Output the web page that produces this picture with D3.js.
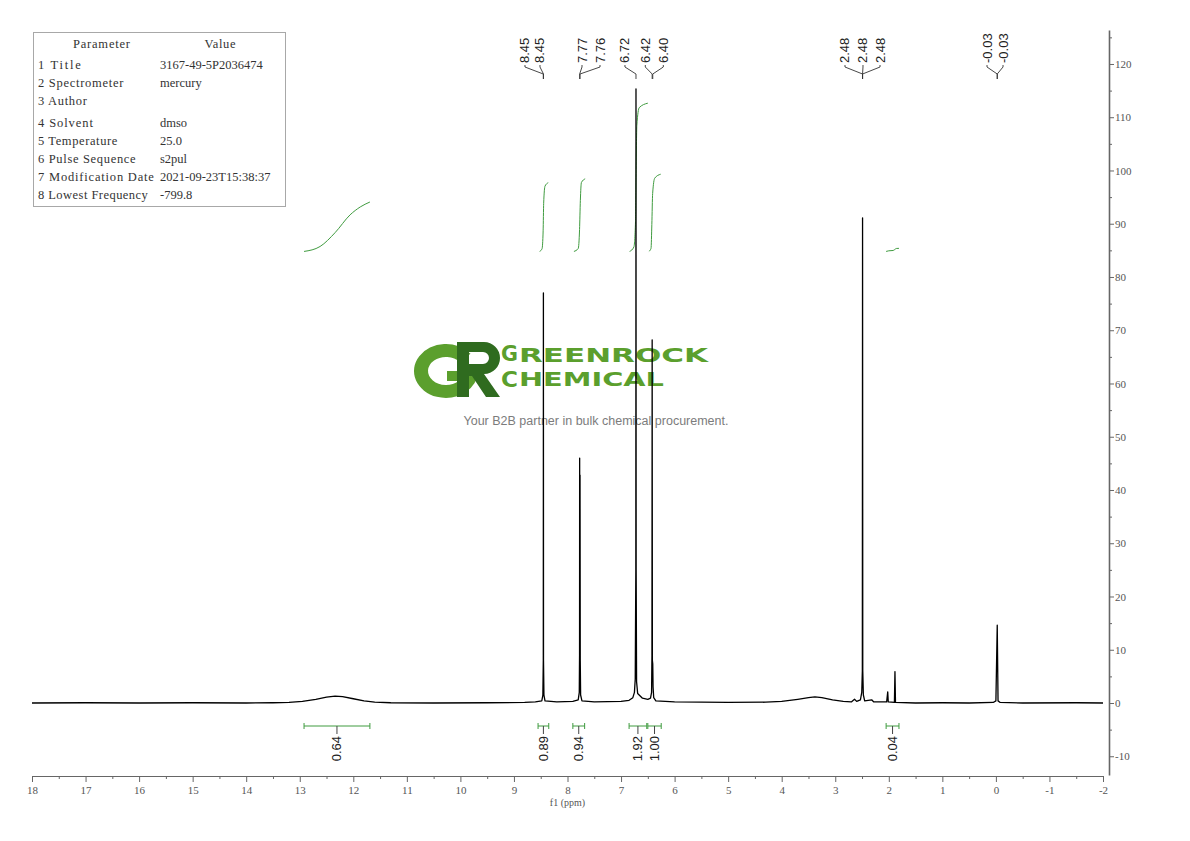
<!DOCTYPE html>
<html><head><meta charset="utf-8">
<script src="https://cdn.jsdelivr.net/npm/d3@7/dist/d3.min.js"></script>
<style>body{margin:0;background:#fff}svg{display:block}</style>
</head><body>
<svg id="c" width="1190" height="841"></svg>
<script>
// ---------------- data ----------------
const xTickValues = [18,17,16,15,14,13,12,11,10,9,8,7,6,5,4,3,2,1,0,-1,-2];
const xMinorTicks = [17.5,16.5,15.5,14.5,13.5,12.5,11.5,10.5,9.5,8.5,7.5,6.5,5.5,4.5,3.5,2.5,1.5,0.5,-0.5,-1.5];
const yTickValues = [-10,0,10,20,30,40,50,60,70,80,90,100,110,120];
const yMinorTicks = [-5,5,15,25,35,45,55,65,75,85,95,105,115,125];

// spectrum trace: [ppm, intensity]
const spectrum = [
 [18.0,0],[17.0,0.05],[16.0,0],[15.0,0.05],[14.0,0],[13.5,0.05],[13.2,0.1],[12.95,0.3],[12.7,0.7],
 [12.5,1.1],[12.34,1.3],[12.2,1.2],[12.0,0.8],[11.8,0.4],[11.6,0.15],[11.3,0.05],[10.5,0],[9.5,0.05],
 [8.8,0.1],[8.6,0.2],[8.48,0.4],[8.46,1.5],[8.452,8],[8.45,77],[8.448,8],[8.44,1.5],[8.42,0.4],
 [8.2,0.2],[7.9,0.3],[7.8,0.6],[7.78,2],[7.775,9],[7.773,46],[7.770,9],[7.766,42.8],[7.762,8],
 [7.755,1.5],[7.73,0.4],[7.5,0.2],[7.0,0.3],[6.85,0.5],[6.78,1],[6.75,2],[6.735,4.5],[6.724,25],
 [6.721,115.3],[6.718,25],[6.71,4],[6.69,1.8],[6.6,0.9],[6.5,0.7],[6.45,0.9],[6.43,2],[6.423,9],
 [6.419,68.2],[6.415,8],[6.408,7.3],[6.402,3],[6.39,1],[6.35,0.4],[6.0,0.2],[5.0,0.1],[4.3,0.15],
 [4.0,0.3],[3.7,0.7],[3.5,1.0],[3.38,1.15],[3.25,1.0],[3.05,0.6],[2.85,0.3],[2.7,0.2],[2.64,0.7],
 [2.6,0.3],[2.53,0.6],[2.505,2],[2.494,6],[2.49,91.1],[2.486,6],[2.475,1.5],[2.45,0.4],[2.32,0.6],
 [2.28,0.2],[2.04,0.2],[2.02,2.1],[2.01,0.2],[1.895,0.1],[1.885,5.9],[1.875,0.1],[1.5,0],[1.0,0.05],
 [0.5,0],[0.05,0.1],[0.0,0.4],[-0.025,14.6],[-0.04,0.4],[-0.08,0.1],[-0.5,0],[-1.5,0.05],[-2.0,0]
];

// peak labels
const peakLabelText = ["8.45","8.45","7.77","7.76","6.72","6.42","6.40","2.48","2.48","2.48","-0.03","-0.03"];
const peakLabelPpm  = [8.452,8.448,7.773,7.766,6.721,6.419,6.408,2.49,2.49,2.49,-0.025,-0.025];
const peakLabelPos  = [8.794,8.514,7.729,7.393,6.927,6.547,6.211,2.818,2.482,2.164,0.166,-0.133];

// integrals
const integralFrom   = [12.92,8.55,7.90,6.85,6.50,2.05];
const integralTo     = [11.69,8.35,7.68,6.52,6.25,1.81];
const integralValues = [0.64,0.89,0.94,1.92,1.00,0.04];
const integralLabels = ["0.64","0.89","0.94","1.92","1.00","0.04"];
const integralCurves = [
 [[12.92,0],[12.62,0.1],[12.34,0.38],[12.06,0.74],[11.87,0.9],[11.69,1]],
 [[8.52,0],[8.475,0.04],[8.455,0.3],[8.445,0.7],[8.42,0.95],[8.36,1]],
 [[7.88,0],[7.80,0.04],[7.775,0.3],[7.76,0.7],[7.74,0.95],[7.67,1]],
 [[6.84,0],[6.76,0.03],[6.73,0.2],[6.72,0.5],[6.705,0.85],[6.66,0.97],[6.50,1]],
 [[6.48,0],[6.44,0.04],[6.425,0.35],[6.41,0.75],[6.37,0.95],[6.26,1]],
 [[2.05,0],[2.0,0.2],[1.92,0.3],[1.89,0.6],[1.86,0.95],[1.81,1]]
];

// parameter table
const paramNames  = ["1 Title","2 Spectrometer","3 Author","4 Solvent","5 Temperature","6 Pulse Sequence","7 Modification Date","8 Lowest Frequency"];
const paramValues = ["3167-49-5P2036474","mercury","","dmso","25.0","s2pul","2021-09-23T15:38:37","-799.8"];

// ---------------- layout ----------------
const svg = d3.select("#c");
const x = d3.scaleLinear().domain([18,-2]).range([32,1103]);
const y = d3.scaleLinear().domain([-13.52,126.38]).range([775,30]);
const GREEN = "#3f9b3f";
const intBase = 84.8, intPerUnit = 14.5;

// parameter table
const tbl = svg.append("g");
tbl.append("rect").attr("x",33.5).attr("y",32.5).attr("width",252).attr("height",174)
  .attr("fill","#fff").attr("stroke","#a8a8a8");
const tfont = "'Liberation Serif', 'DejaVu Serif', serif";
tbl.append("text").attr("x",101.5).attr("y",48).attr("text-anchor","middle")
  .attr("font-family",tfont).attr("font-size",12.5).attr("fill","#333")
  .attr("textLength",57).attr("lengthAdjust","spacing").text("Parameter");
tbl.append("text").attr("x",220).attr("y",48).attr("text-anchor","middle")
  .attr("font-family",tfont).attr("font-size",12.5).attr("fill","#333")
  .attr("textLength",31).attr("lengthAdjust","spacing").text("Value");
paramNames.forEach((n,i)=>{
  const yy = 69 + i*18 + (i>=3?4:0);
  tbl.append("text").attr("x",38).attr("y",yy).attr("font-family",tfont).attr("font-size",12.5)
    .attr("fill","#333").attr("textLength",n.length*6.1).attr("lengthAdjust","spacing").text(n);
  if (paramValues[i]) tbl.append("text").attr("x",160).attr("y",yy).attr("font-family",tfont).attr("font-size",12.5)
    .attr("fill","#333").text(paramValues[i]);
});

// watermark (logo shapes drawn as paths, wordmark as text)
const wm = svg.append("g");
const gcx = 446, gcy = 371, oRx = 32, oRy = 27, iRx = 18, iRy = 14, barT = 10;
const ang = -40*Math.PI/180;
const ix = gcx + iRx*Math.sqrt(1 - (barT*barT)/(iRy*iRy));
const gPath = `M${gcx+oRx*Math.cos(ang)},${gcy+oRy*Math.sin(ang)}`+
  ` A${oRx},${oRy} 0 1 0 ${gcx+oRx},${gcy}`+
  ` L${gcx+1},${gcy} L${gcx+1},${gcy+barT} L${ix},${gcy+barT}`+
  ` A${iRx},${iRy} 0 1 1 ${gcx+iRx*Math.cos(ang)},${gcy+iRy*Math.sin(ang)} Z`;
wm.append("path").attr("d",gPath).attr("fill","#5b9f2d");
const rPath = "M457,342 H484 A16,16 0 0 1 484,374 L500,397 H486 L472,376 H469 V397 H457 Z " +
              "M469,352 H483 A6,6 0 0 1 483,364 H469 Z";
wm.append("path").attr("d",rPath).attr("fill","#2f6b1f").attr("fill-rule","evenodd");
const logoFont = "'DejaVu Sans', sans-serif";
wm.append("text").attr("x",501).attr("y",361).attr("font-family",logoFont).attr("font-weight","bold")
  .attr("font-size",21).attr("fill","#5b9f2d").attr("textLength",17).attr("lengthAdjust","spacingAndGlyphs").text("G");
wm.append("text").attr("x",519).attr("y",362).attr("font-family",logoFont).attr("font-weight","bold")
  .attr("font-size",19).attr("fill","#5b9f2d").attr("textLength",189).attr("lengthAdjust","spacingAndGlyphs").text("REENROCK");
wm.append("text").attr("x",501).attr("y",386.5).attr("font-family",logoFont).attr("font-weight","bold")
  .attr("font-size",21).attr("fill","#5b9f2d").attr("textLength",17).attr("lengthAdjust","spacingAndGlyphs").text("C");
wm.append("text").attr("x",519).attr("y",386).attr("font-family",logoFont).attr("font-weight","bold")
  .attr("font-size",19).attr("fill","#5b9f2d").attr("textLength",145).attr("lengthAdjust","spacingAndGlyphs").text("HEMICAL");
wm.append("text").attr("x",596).attr("y",425).attr("text-anchor","middle").attr("font-family","'Liberation Sans', Arial, sans-serif")
  .attr("font-size",12.5).attr("fill","#7c7c7c").text("Your B2B partner in bulk chemical procurement.");

// axes
const axFont = "'Liberation Serif', 'DejaVu Serif', serif";
svg.append("g").attr("transform","translate(0,776)")
  .call(d3.axisBottom(x).tickValues(xTickValues).tickSize(6).tickSizeOuter(0).tickPadding(4).tickFormat(d=>String(d)));
svg.append("g").attr("transform","translate(0,776)")
  .call(d3.axisBottom(x).tickValues(xMinorTicks).tickSize(3).tickSizeOuter(0).tickFormat(""))
  .select(".domain").remove();
const gy = svg.append("g").attr("transform","translate(1109,0)")
  .call(d3.axisRight(y).tickValues(yTickValues).tickSize(5).tickSizeOuter(0).tickPadding(1).tickFormat(d=>String(d)));
svg.append("g").attr("transform","translate(1109,0)")
  .call(d3.axisRight(y).tickValues(yMinorTicks).tickSize(3).tickSizeOuter(0).tickFormat(""))
  .select(".domain").remove();
svg.selectAll(".tick line").attr("stroke","#666");
svg.selectAll(".domain").attr("stroke","#666");
gy.select(".domain").attr("stroke-width",1.6);
svg.selectAll(".tick text").attr("font-family",axFont).attr("font-size",11).attr("fill","#555");
svg.append("text").attr("x",x(8)).attr("y",806).attr("text-anchor","middle").attr("font-family",axFont)
  .attr("font-size",10).attr("fill","#555").text("f1 (ppm)");

// integral curves
const curveLine = d3.line().curve(d3.curveMonotoneX);
integralCurves.forEach((pts,i)=>{
  svg.append("path").attr("fill","none").attr("stroke",GREEN).attr("stroke-width",1)
    .attr("d", curveLine(pts.map(p=>[x(p[0]), y(intBase + p[1]*integralValues[i]*intPerUnit)])));
});

// spectrum
svg.append("path").datum(spectrum).attr("fill","none").attr("stroke","#000").attr("stroke-width",1.3)
  .attr("stroke-linejoin","round")
  .attr("d", d3.line().x(d=>x(d[0])).y(d=>y(d[1])));

// peak labels
const lf = "'Liberation Sans', Arial, sans-serif";
peakLabelText.forEach((t,i)=>{
  const lx = x(peakLabelPos[i]), px = x(peakLabelPpm[i]);
  svg.append("text").attr("transform",`translate(${lx},63) rotate(-90)`).attr("text-anchor","start")
    .attr("dominant-baseline","central").attr("font-family",lf).attr("font-size",13).attr("fill","#222").text(t);
  svg.append("path").attr("fill","none").attr("stroke","#333").attr("stroke-width",0.9)
    .attr("d", d3.line()([[lx,65],[lx,67],[px,74],[px,79]]));
});

// integral brackets + labels
integralValues.forEach((v,i)=>{
  const x1 = x(integralFrom[i]), x2 = x(integralTo[i]), cx = x((integralFrom[i]+integralTo[i])/2);
  const g = svg.append("g");
  g.append("line").attr("x1",x1).attr("x2",x2).attr("y1",726).attr("y2",726).attr("stroke",GREEN);
  g.append("line").attr("x1",x1).attr("x2",x1).attr("y1",723).attr("y2",729).attr("stroke",GREEN);
  g.append("line").attr("x1",x2).attr("x2",x2).attr("y1",723).attr("y2",729).attr("stroke",GREEN);
  g.append("line").attr("x1",cx).attr("x2",cx).attr("y1",726).attr("y2",734).attr("stroke","#444");
  g.append("text").attr("transform",`translate(${cx},736) rotate(-90)`).attr("text-anchor","end")
    .attr("dominant-baseline","central").attr("font-family",lf).attr("font-size",13).attr("fill","#222")
    .text(integralLabels[i]);
});
</script>
</body></html>
